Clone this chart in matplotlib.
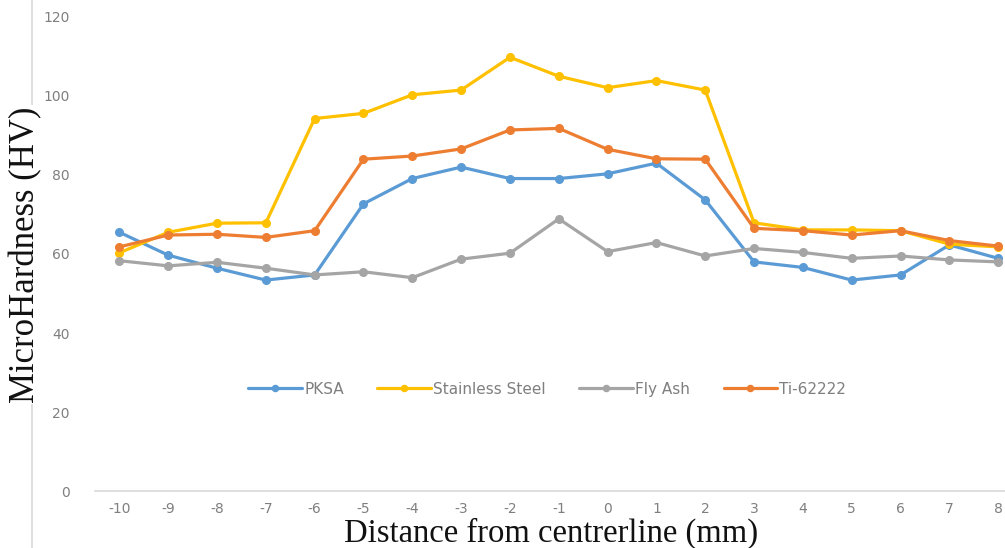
import matplotlib.pyplot as plt
from matplotlib.lines import Line2D

# ── data ──────────────────────────────────────────────────────────────────────
distance = [-10, -9, -8, -7, -6, -5, -4, -3, -2, -1, 0, 1, 2, 3, 4, 5, 6, 7, 8]

pksa            = [65.5, 59.7, 56.4, 53.4, 54.7, 72.7, 79.1, 82.0, 79.1, 79.1, 80.3, 83.0, 73.7, 58.0, 56.6, 53.4, 54.7, 62.3, 58.9]
stainless_steel = [60.3, 65.5, 67.8, 67.9, 94.3, 95.6, 100.3, 101.5, 109.8, 105.0, 102.1, 103.9, 101.5, 67.9, 66.1, 66.1, 65.9, 62.5, 61.8]
fly_ash         = [58.3, 57.0, 57.9, 56.4, 54.7, 55.5, 54.0, 58.7, 60.2, 68.9, 60.6, 62.9, 59.5, 61.4, 60.4, 58.9, 59.5, 58.5, 58.0]
ti_62222        = [61.8, 64.8, 65.0, 64.2, 65.9, 84.0, 84.8, 86.6, 91.4, 91.8, 86.5, 84.1, 84.0, 66.5, 65.9, 64.8, 65.9, 63.4, 62.0]

series = [
    ("PKSA", pksa, "#5B9BD5"),
    ("Stainless Steel", stainless_steel, "#FFC000"),
    ("Fly Ash", fly_ash, "#A5A5A5"),
    ("Ti-62222", ti_62222, "#ED7D31"),
]

y_ticks = [0, 20, 40, 60, 80, 100, 120]

# ── plot ──────────────────────────────────────────────────────────────────────
fig = plt.figure(figsize=(10.05, 5.48), dpi=100)
ax = fig.add_axes([0.0945, 0.104, 0.9055, 0.865])

for name, vals, col in series:
    ax.plot(distance, vals, color=col, linewidth=2.3, marker="o", markersize=5.5,
            label=name, solid_capstyle="round")

ax.set_xlim(-10.5, 8.14)
ax.set_ylim(0, 120)
ax.set_xticks(distance)
ax.set_xticklabels([str(d) for d in distance])
ax.set_yticks(y_ticks)

for s in ["top", "right", "left"]:
    ax.spines[s].set_visible(False)
ax.spines["bottom"].set_color("#D9D9D9")
ax.spines["bottom"].set_linewidth(1.2)
ax.tick_params(axis="both", length=0, colors="#7F7F7F", labelsize=10)
ax.tick_params(axis="x", pad=8)
ax.tick_params(axis="y", pad=18)

# axis titles (serif, large, as in the original Word/Excel figure)
fig.text(0.548, 0.011, "Distance from centrerline (mm)", ha="center", va="baseline",
         family="Liberation Serif", fontsize=23.5, color="#111111")

# thin frame line at the far left, behind the y label
fig.add_artist(Line2D([0.032, 0.032], [0, 1], transform=fig.transFigure,
                      color="#D9D9D9", linewidth=1.2))
fig.text(0.026, 0.535, "MicroHardness (HV)", rotation=90, ha="center", va="center",
         family="Liberation Serif", fontsize=25, color="#111111",
         bbox=dict(facecolor="white", edgecolor="none", pad=1))

leg = ax.legend(loc="center", bbox_to_anchor=(0.497, 0.215), ncol=4, frameon=False,
                fontsize=11, handlelength=3.5, columnspacing=2.2, handletextpad=0.15,
                markerscale=0.8)
for t in leg.get_texts():
    t.set_color("#7F7F7F")

fig.savefig("out.png", dpi=100)
